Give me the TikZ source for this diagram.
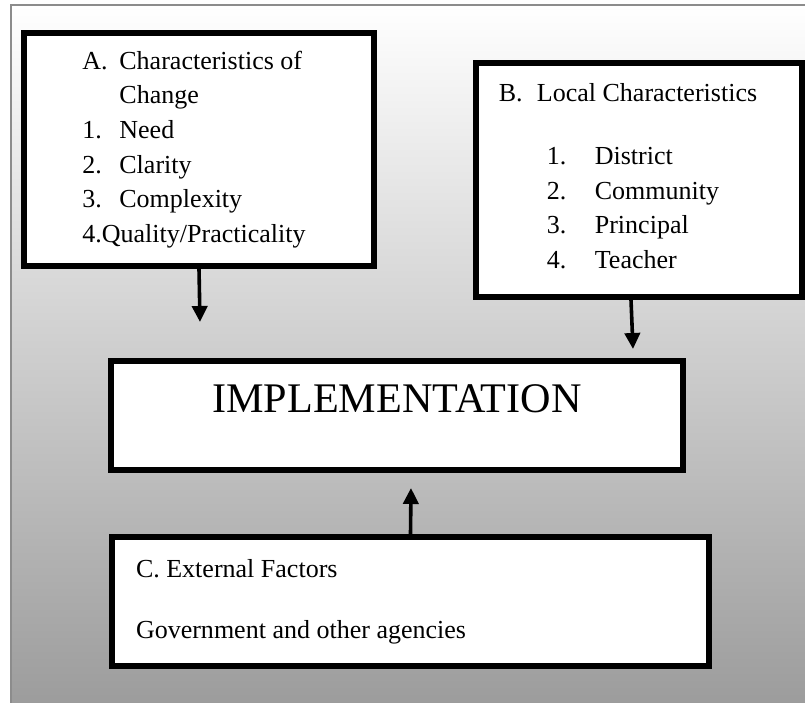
\documentclass[tikz,border=0pt]{standalone}
\usepackage{fontspec}
\setmainfont{Liberation Serif}
\usepackage{tikz}
\usetikzlibrary{arrows.meta}

\definecolor{bgbottom}{RGB}{155,155,155}
\definecolor{framegray}{RGB}{140,140,140}

\tikzset{
    factorbox/.style={draw=black, fill=white, line width=0.15cm, inner sep=0pt,
        font=\fontsize{18.5}{24.6}\selectfont},
    flowarrow/.style={line width=0.09cm, -{Triangle[length=0.4cm,width=0.38cm]}}
}

\begin{document}
\begin{tikzpicture}
    \useasboundingbox (0,0) rectangle (20.125,-17.55);
    \clip (0,0) rectangle (20.125,-17.55);
    % background panel
    \shade[top color=white, bottom color=bgbottom] (0.275,-0.125) rectangle (20.4,-17.8);
    \draw[framegray, line width=0.05cm] (0.275,-0.125) rectangle (20.4,-17.8);

    \node[factorbox, minimum width=8.75cm, minimum height=5.825cm, align=left] (change) at (4.975,-3.7375)
        {\makebox[0.925cm][l]{A.}Characteristics of\\
         \hspace*{0.925cm}Change\\
         \makebox[0.925cm][l]{1.}Need\\
         \makebox[0.925cm][l]{2.}Clarity\\
         \makebox[0.925cm][l]{3.}Complexity\\
         4.Quality/Practicality\hspace*{0.25cm}};
    \node[factorbox, minimum width=8.15cm, minimum height=5.85cm, align=left, text depth=0.2cm] (local) at (15.975,-4.5)
        {\makebox[0.95cm][l]{B.}Local Characteristics\hspace*{0.55cm}\\[0.71cm]
         \hspace*{1.2cm}\makebox[1.2cm][l]{1.}District\\
         \hspace*{1.2cm}\makebox[1.2cm][l]{2.}Community\\
         \hspace*{1.2cm}\makebox[1.2cm][l]{3.}Principal\\
         \hspace*{1.2cm}\makebox[1.2cm][l]{4.}Teacher};
    \node[factorbox, minimum width=14.3cm, minimum height=2.725cm, text depth=0.825cm,
        font=\fontsize{30}{36}\selectfont] (impl) at (9.925,-10.3875) {IMPLEMENTATION};
    \node[factorbox, text width=13.725cm, inner xsep=0.6cm, minimum height=3.225cm, align=flush left] (external) at (10.2625,-15.0375)
        {C. External Factors\\[0.66cm]
         Government and other agencies};

    \coordinate (tipA) at (5.0,-8.05);
    \coordinate (tipB) at (15.825,-8.725);
    \coordinate (tipC) at (10.275,-12.2);
    \draw[flowarrow] (change.south) -- (tipA);
    \draw[flowarrow] ([xshift=-0.2cm]local.south) -- (tipB);
    \draw[flowarrow] (external.north) -- (tipC);
\end{tikzpicture}
\end{document}
